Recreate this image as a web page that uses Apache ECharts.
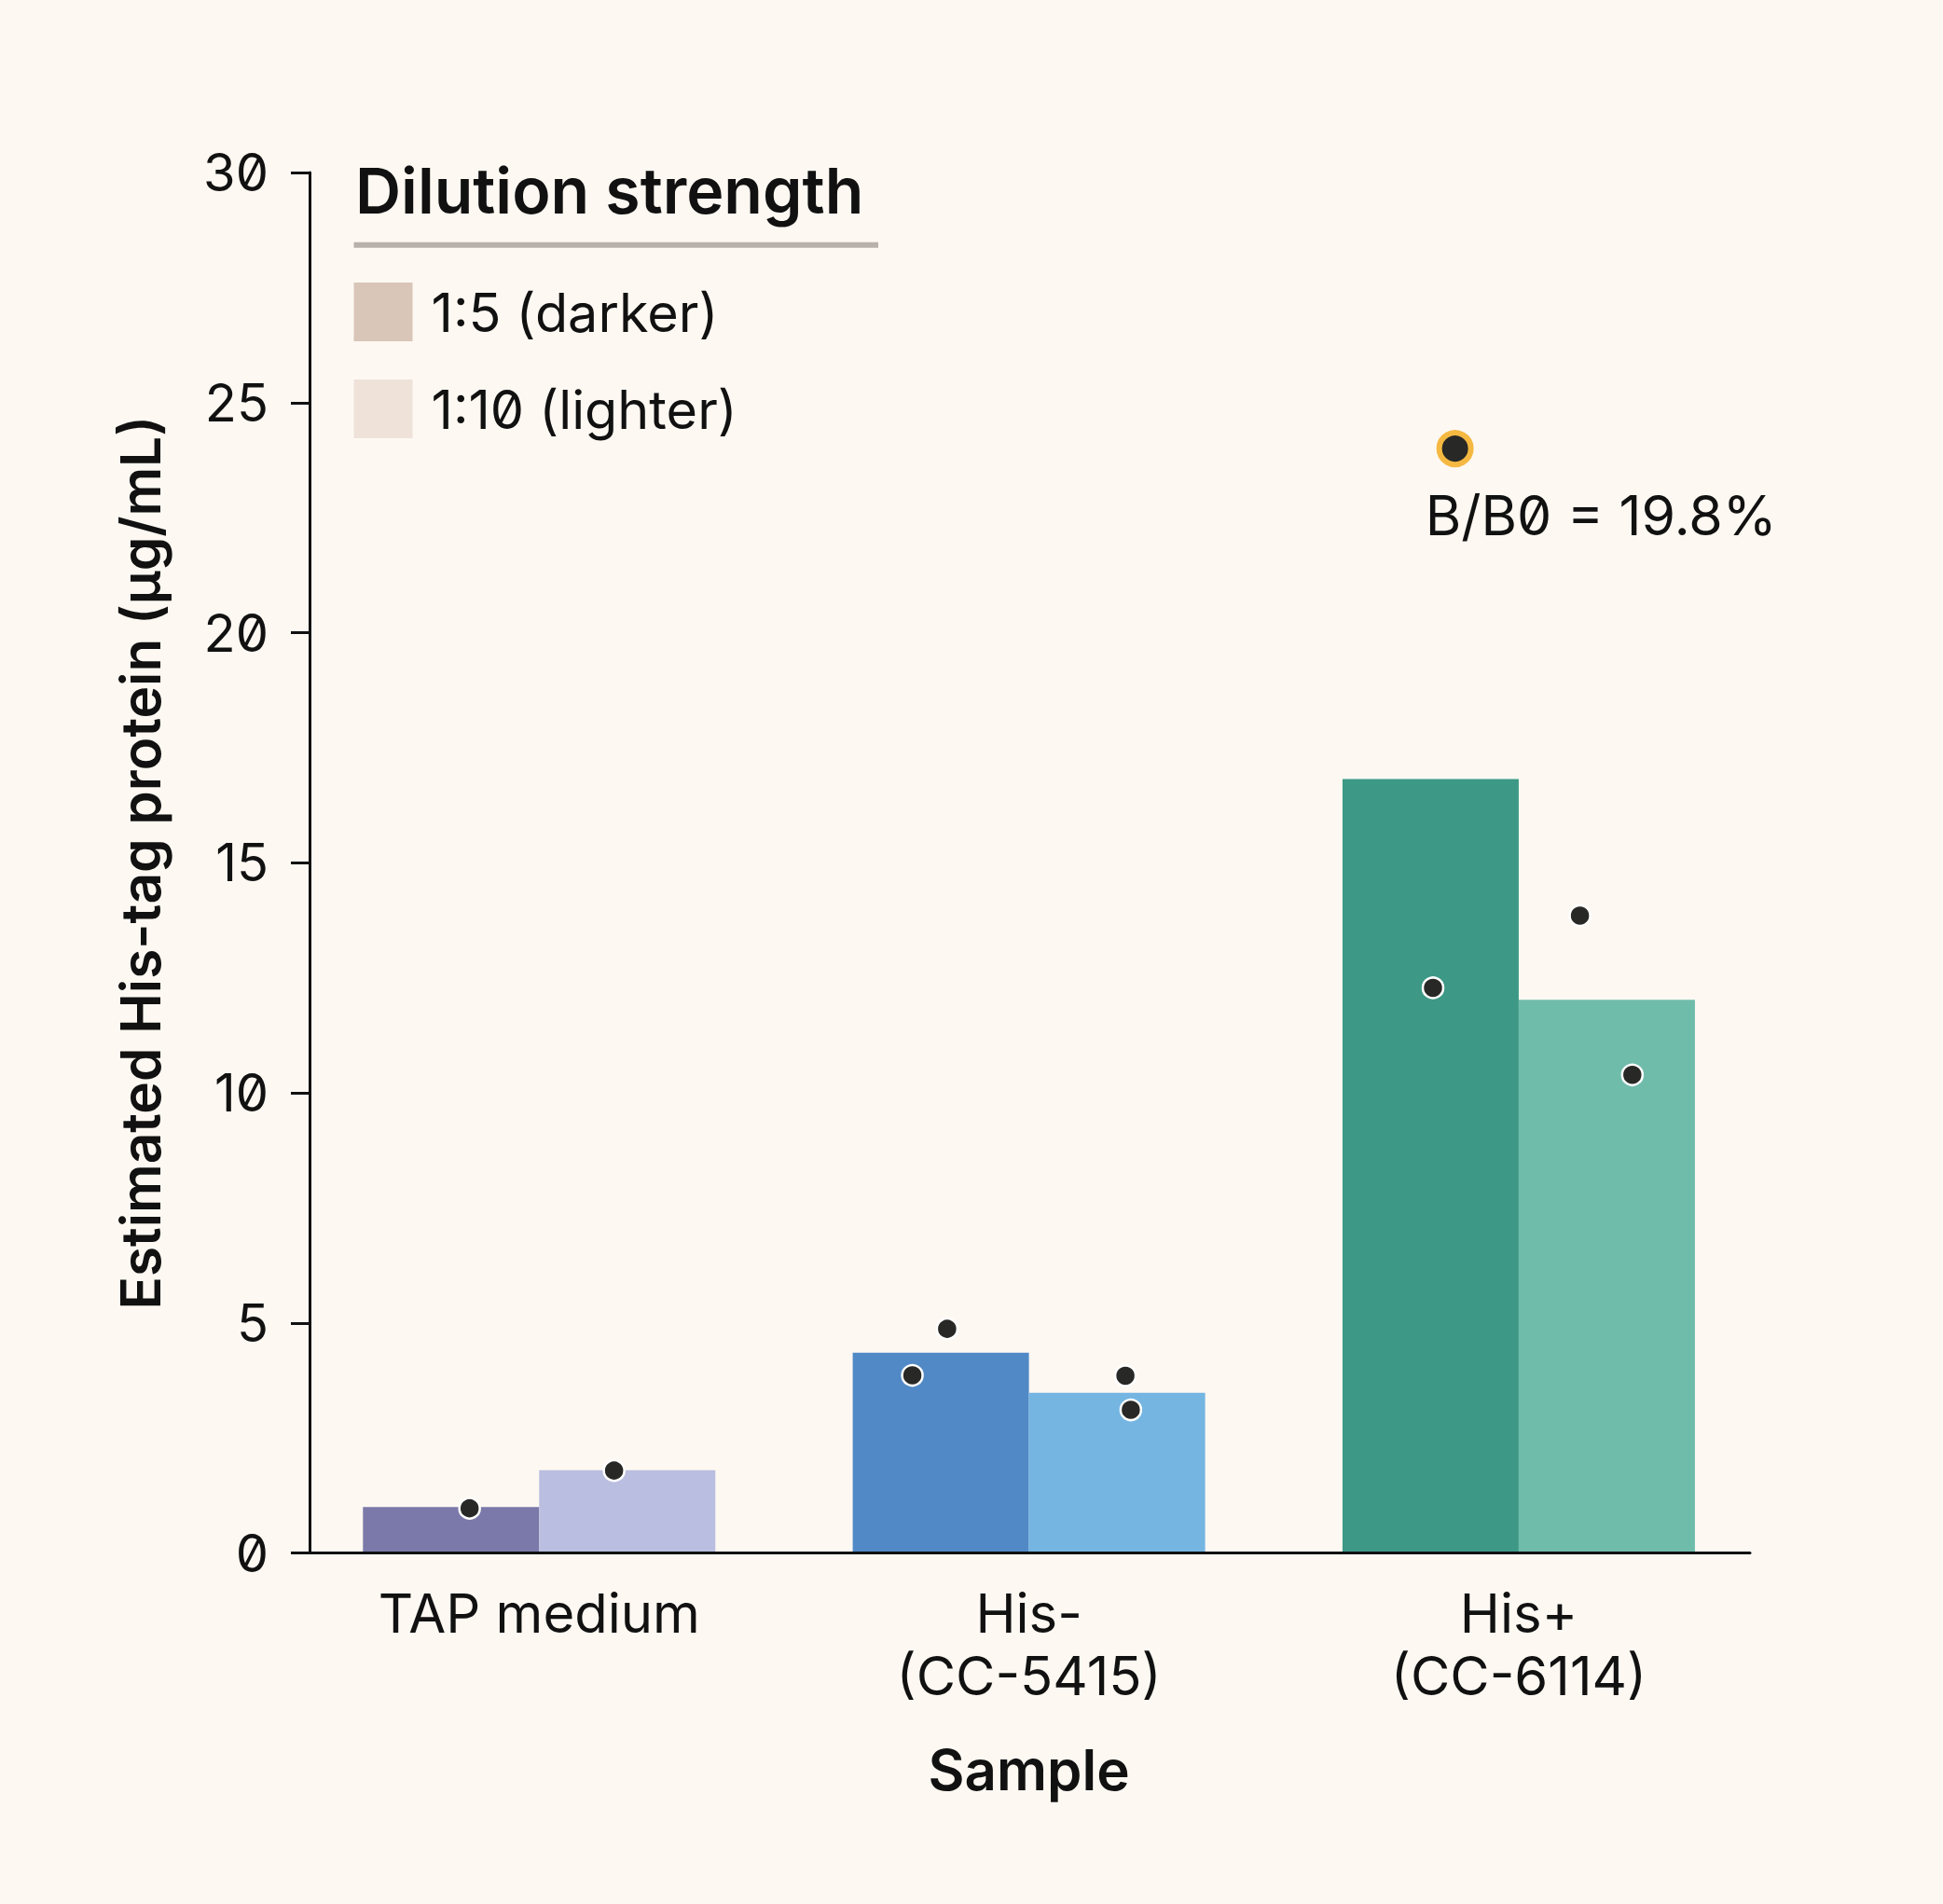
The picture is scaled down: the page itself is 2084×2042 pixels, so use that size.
<!DOCTYPE html>
<html>
<head>
<meta charset="utf-8">
<script src="https://cdn.jsdelivr.net/npm/echarts@6/dist/echarts.min.js"></script>
<style>
  html, body { margin: 0; padding: 0; background: #fdf8f2; }
  #chart { width: 2084px; height: 2042px; font-feature-settings: "zero" 1; }
  #chart text { font-feature-settings: "zero" 1 !important; }
</style>
</head>
<body>
<div id="chart"></div>
<script>
// ---- data ----
const categories = ['TAP medium', 'His-\n(CC-5415)', 'His+\n(CC-6114)'];
const seriesNames = ['1:5 (darker)', '1:10 (lighter)'];
const dil5Values = [1.0, 4.35, 16.82];
const dil10Values = [1.80, 3.48, 12.02];
const dil5Colors = ['#7b79a9', '#5189c6', '#3d9986'];
const dil10Colors = ['#babee0', '#74b5e2', '#70bcab'];
const legendColors = ['#d9c6b8', '#efe2d9'];
// replicate points: [position along category axis (index + jitter), value]
const replicatePoints = [
  [-0.142, 0.97], [0.153, 1.79],
  [0.833, 4.87], [0.762, 3.86], [1.197, 3.85], [1.208, 3.11],
  [1.825, 12.28], [2.125, 13.85], [2.232, 10.39]
];
const outlierPoint = [[1.870, 24.0]];
const outlierLabel = 'B/B0 = 19.8%';
const yMin = 0, yMax = 30, yInterval = 5;
const legendTitle = 'Dilution strength';
const xAxisTitle = 'Sample';
const yAxisTitle = 'Estimated His-tag protein (µg/mL)';

// ---- chart ----
const FONT = 'Inter, "Noto Sans", sans-serif';
const INK = '#111111';
const chart = echarts.init(document.getElementById('chart'), null, { renderer: 'svg' });

const gridTop = 185, gridHeight = 1480.5;

chart.setOption({
  backgroundColor: '#fdf8f2',
  textStyle: { fontFamily: FONT, color: INK },
  animation: false,
  title: {
    text: legendTitle,
    left: 381, top: 170, padding: 0,
    textStyle: { fontFamily: FONT, fontSize: 68, fontWeight: 600, color: INK, lineHeight: 68 }
  },
  graphic: [{
    type: 'line',
    shape: { x1: 379.5, y1: 262.7, x2: 942, y2: 262.7 },
    style: { stroke: '#b8b1aa', lineWidth: 6 }
  }],
  legend: {
    data: seriesNames,
    orient: 'vertical',
    left: 379.5, top: 303, padding: 0,
    itemWidth: 63, itemHeight: 63, itemGap: 41,
    icon: 'rect',
    selectedMode: false,
    textStyle: { fontFamily: FONT, fontSize: 57.5, color: INK, padding: [4, 0, 0, 15] }
  },
  grid: [
    { left: 315.6, width: 1576, top: gridTop, height: gridHeight },
    { left: 332, width: 1545, top: gridTop, height: gridHeight }
  ],
  xAxis: [
    {
      type: 'category', gridIndex: 0, data: categories,
      axisLine: { show: false }, axisTick: { show: false }, splitLine: { show: false },
      axisLabel: { fontFamily: FONT, fontSize: 58, color: INK, lineHeight: 67, margin: 31 },
      name: xAxisTitle, nameLocation: 'middle', nameGap: 202,
      nameTextStyle: { fontFamily: FONT, fontSize: 60, fontWeight: 600, color: INK, lineHeight: 60 }
    },
    { type: 'value', gridIndex: 0, min: -0.5, max: 2.5, show: false },
    {
      type: 'value', gridIndex: 1, min: 0, max: 1, z: 5,
      axisLine: { show: true, lineStyle: { color: INK, width: 3 } },
      axisTick: { show: false }, axisLabel: { show: false }, splitLine: { show: false }
    }
  ],
  yAxis: [
    { type: 'value', gridIndex: 0, min: yMin, max: yMax, show: false },
    {
      type: 'value', gridIndex: 1, min: yMin, max: yMax, interval: yInterval, z: 5,
      axisLine: { show: true, lineStyle: { color: INK, width: 3 } },
      axisTick: { show: true, length: 20, lineStyle: { color: INK, width: 3 } },
      splitLine: { show: false },
      axisLabel: { fontFamily: FONT, fontSize: 56, color: INK, margin: 44 },
      name: yAxisTitle, nameLocation: 'middle', nameGap: 153, nameRotate: 90,
      nameTextStyle: { fontFamily: FONT, fontSize: 58.5, fontWeight: 600, color: INK, lineHeight: 58 }
    }
  ],
  series: [
    {
      name: seriesNames[0], type: 'bar', xAxisIndex: 0, yAxisIndex: 0,
      barWidth: 189, barGap: '0%',
      itemStyle: { color: legendColors[0] },
      data: dil5Values.map((v, i) => ({ value: v, itemStyle: { color: dil5Colors[i] } }))
    },
    {
      name: seriesNames[1], type: 'bar', xAxisIndex: 0, yAxisIndex: 0,
      barWidth: 189, barGap: '0%',
      itemStyle: { color: legendColors[1] },
      data: dil10Values.map((v, i) => ({ value: v, itemStyle: { color: dil10Colors[i] } }))
    },
    {
      name: 'replicates', type: 'scatter', xAxisIndex: 1, yAxisIndex: 0, z: 6,
      symbol: 'circle', symbolSize: 22,
      itemStyle: { color: '#282826', borderColor: '#ffffff', borderWidth: 2.5, opacity: 1 },
      data: replicatePoints
    },
    {
      name: 'outlier', type: 'scatter', xAxisIndex: 1, yAxisIndex: 0, z: 7,
      symbol: 'circle', symbolSize: 34,
      itemStyle: { color: '#282826', borderColor: '#f5b942', borderWidth: 6, opacity: 1 },
      label: {
        show: true, formatter: () => outlierLabel,
        position: [-12, 91], align: 'left', verticalAlign: 'middle',
        fontFamily: FONT, fontSize: 59, color: INK
      },
      data: outlierPoint
    }
  ]
});
</script>
</body>
</html>
